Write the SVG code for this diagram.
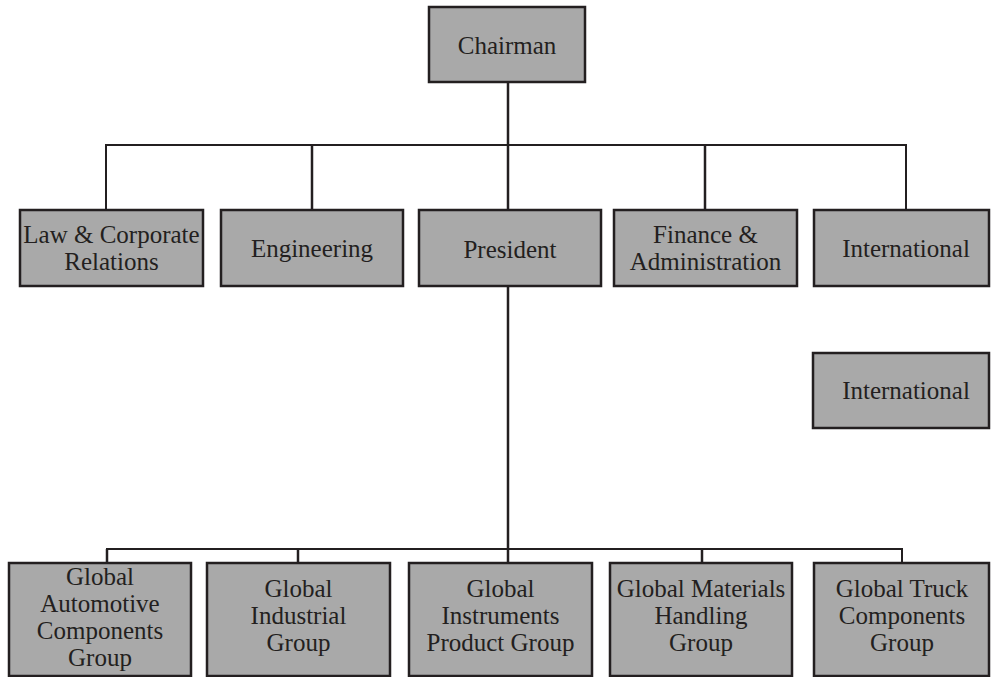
<svg xmlns="http://www.w3.org/2000/svg" width="991" height="677" viewBox="0 0 991 677">
  <style>
    .box { fill: #a9a9a9; stroke: #231f20; stroke-width: 2.5; }
    .lbl { font-family: 'Liberation Serif', 'DejaVu Serif', 'Times New Roman', Times, serif; font-size: 25px; fill: #231f20; text-anchor: middle; }
    .wire { fill: none; stroke: #231f20; stroke-width: 2.5; }
    .wire.thin { stroke-width: 2; }
  </style>
  <rect width="991" height="677" fill="#ffffff"/>

  <!-- connectors -->
  <g id="connectors">
    <!-- chairman down through to president -->
    <line class="wire" x1="508" y1="82" x2="508" y2="210"/>
    <polyline class="wire thin" points="106,210 106,145 906,145 906,210"/>
    <line class="wire" x1="312" y1="145" x2="312" y2="210"/>
    <line class="wire" x1="705" y1="145" x2="705" y2="210"/>
    <!-- president down to the group divisions -->
    <line class="wire" x1="508" y1="286" x2="508" y2="563"/>
    <polyline class="wire thin" points="107,563 107,549 902,549 902,563"/>
    <line class="wire" x1="107" y1="549" x2="107" y2="563"/>
    <line class="wire" x1="298" y1="549" x2="298" y2="563"/>
    <line class="wire" x1="702" y1="549" x2="702" y2="563"/>
  </g>

  <g id="chairman">
    <rect class="box" x="429" y="7" width="156" height="75"/>
    <text class="lbl" x="507" y="54" font-family="Liberation Serif, serif">Chairman</text>
  </g>

  <g id="law">
    <rect class="box" x="20" y="210" width="183" height="76"/>
    <text class="lbl" x="111.5" y="243">Law &amp; Corporate</text>
    <text class="lbl" x="111.5" y="270">Relations</text>
  </g>

  <g id="engineering">
    <rect class="box" x="221" y="210" width="182" height="76"/>
    <text class="lbl" x="312" y="257">Engineering</text>
  </g>

  <g id="president">
    <rect class="box" x="419" y="210" width="182" height="76"/>
    <text class="lbl" x="510" y="258">President</text>
  </g>

  <g id="finance">
    <rect class="box" x="614" y="210" width="183" height="76"/>
    <text class="lbl" x="705.5" y="243">Finance &amp;</text>
    <text class="lbl" x="705.5" y="270">Administration</text>
  </g>

  <g id="international">
    <rect class="box" x="814" y="210" width="175" height="76"/>
    <text class="lbl" x="906" y="257">International</text>
  </g>

  <g id="international-2">
    <rect class="box" x="813" y="353" width="176" height="75"/>
    <text class="lbl" x="906" y="399">International</text>
  </g>

  <g id="automotive">
    <rect class="box" x="9" y="563" width="182" height="113"/>
    <text class="lbl" x="100" y="585">Global</text>
    <text class="lbl" x="100" y="612">Automotive</text>
    <text class="lbl" x="100" y="639">Components</text>
    <text class="lbl" x="100" y="666">Group</text>
  </g>

  <g id="industrial">
    <rect class="box" x="207" y="563" width="183" height="113"/>
    <text class="lbl" x="298.5" y="597">Global</text>
    <text class="lbl" x="298.5" y="624">Industrial</text>
    <text class="lbl" x="298.5" y="651">Group</text>
  </g>

  <g id="instruments">
    <rect class="box" x="409" y="563" width="183" height="113"/>
    <text class="lbl" x="500.5" y="597">Global</text>
    <text class="lbl" x="500.5" y="624">Instruments</text>
    <text class="lbl" x="500.5" y="651">Product Group</text>
  </g>

  <g id="materials">
    <rect class="box" x="610" y="563" width="182" height="113"/>
    <text class="lbl" x="701" y="597">Global Materials</text>
    <text class="lbl" x="701" y="624">Handling</text>
    <text class="lbl" x="701" y="651">Group</text>
  </g>

  <g id="truck">
    <rect class="box" x="814" y="563" width="175" height="113"/>
    <text class="lbl" x="902" y="597">Global Truck</text>
    <text class="lbl" x="902" y="624">Components</text>
    <text class="lbl" x="902" y="651">Group</text>
  </g>
</svg>
